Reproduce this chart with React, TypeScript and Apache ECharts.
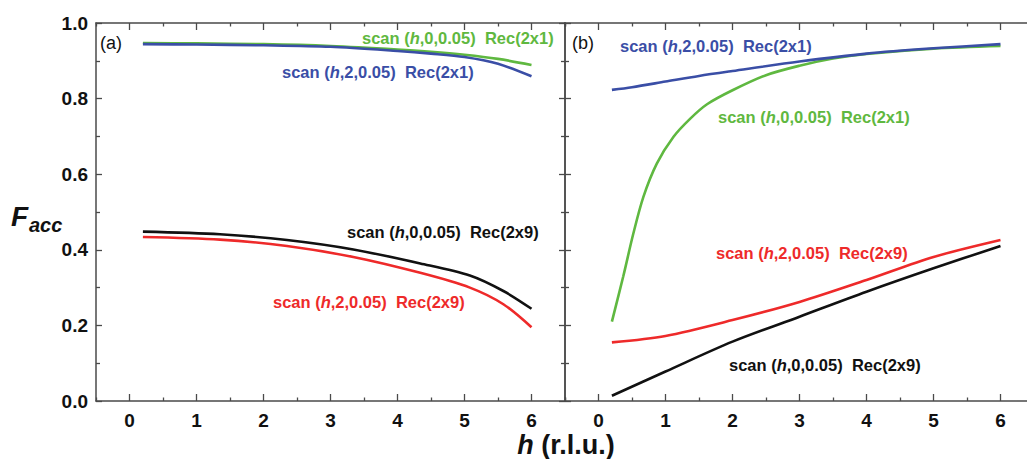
import React, { useEffect, useRef } from "react";
import * as echarts from "echarts";

// ---- data ----
const hA = [0.2, 1, 2, 3, 4, 4.5, 5, 5.5, 6];
const greenA = [0.947, 0.946, 0.944, 0.939, 0.93, 0.924, 0.916, 0.905, 0.889];
const blueA = [0.944, 0.943, 0.941, 0.937, 0.926, 0.919, 0.91, 0.892, 0.859];
const hA2 = [0.2, 1.35, 2.35, 3.34, 4.34, 5.08, 5.58, 6];
const blackA = [0.448, 0.441, 0.426, 0.401, 0.364, 0.332, 0.291, 0.244];
const redA = [0.434, 0.427, 0.41, 0.381, 0.339, 0.3, 0.256, 0.195];

const hGreenB = [0.2, 0.37, 0.52, 0.67, 0.87, 1.12, 1.37, 1.62, 2.0, 2.5, 3, 3.5, 4, 5, 6];
const greenB = [0.21, 0.33, 0.443, 0.54, 0.628, 0.699, 0.747, 0.785, 0.822, 0.862, 0.887, 0.906, 0.918, 0.932, 0.939];
const hBlueB = [0.2, 0.5, 1, 1.5, 2, 3, 4, 5, 6];
const blueB = [0.823, 0.83, 0.845, 0.86, 0.873, 0.898, 0.919, 0.933, 0.944];
const hB = [0.2, 1, 2, 3, 4, 5, 6];
const redB = [0.155, 0.172, 0.214, 0.262, 0.32, 0.381, 0.426];
const blackB = [0.014, 0.078, 0.157, 0.223, 0.289, 0.351, 0.41];

const yTicks = [0, 0.2, 0.4, 0.6, 0.8, 1.0];
const xTicks = [0, 1, 2, 3, 4, 5, 6];

const GREEN = "#5fb840";
const BLUE = "#3a4ea6";
const RED = "#ee2a2a";
const BLACK = "#111111";
const AXIS = "#4a4a4a";
const FONT = "'Liberation Sans', Arial, sans-serif";

const zip = (xs: number[], ys: number[]) => xs.map((x, i) => [x, ys[i]]);

function scanLabel(k: string, rec: string) {
  return `{n|scan (}{i|h}{n|,${k},0.05)  Rec(${rec})}`;
}

export default function App() {
  const ref = useRef<HTMLDivElement>(null);
  useEffect(() => {
    if (!ref.current) return;
    const chart = echarts.init(ref.current, undefined, { renderer: "svg" });

    const grids = [
      { left: 96, top: 23, width: 469, height: 378 },
      { left: 565, top: 23, width: 469, height: 378 },
    ];

    const xAxes: any[] = [];
    const yAxes: any[] = [];
    grids.forEach((_, g) => {
      xAxes.push({
        gridIndex: g,
        type: "value",
        position: "bottom",
        min: -0.5,
        max: 6.5,
        interval: 1,
        axisLine: { show: true, onZero: false, lineStyle: { color: AXIS, width: 1.5 } },
        axisTick: { show: true, inside: true, length: 3.5, lineStyle: { color: AXIS, width: 1.3 } },
        minorTick: { show: true, splitNumber: 2, length: 7, lineStyle: { color: AXIS, width: 1.3 } },
        axisLabel: { show: false },
        splitLine: { show: false },
      });
      xAxes.push({
        gridIndex: g,
        type: "value",
        position: "bottom",
        min: -0.5,
        max: 6.5,
        interval: 0.5,
        axisLine: { show: false, onZero: false },
        axisTick: { show: false },
        axisLabel: {
          show: true,
          margin: 10,
          color: "#111",
          fontSize: 19,
          fontWeight: "bold",
          fontFamily: FONT,
          formatter: (v: number) => (xTicks.includes(v) ? String(v) : ""),
        },
        splitLine: { show: false },
      });
      xAxes.push({
        gridIndex: g,
        type: "value",
        position: "top",
        min: -0.5,
        max: 6.5,
        interval: 1,
        axisLine: { show: true, onZero: false, lineStyle: { color: AXIS, width: 1.5 } },
        axisTick: { show: true, inside: true, length: 3.5, lineStyle: { color: AXIS, width: 1.3 } },
        minorTick: { show: true, splitNumber: 2, length: 7, lineStyle: { color: AXIS, width: 1.3 } },
        axisLabel: { show: false },
        splitLine: { show: false },
      });
      yAxes.push({
        gridIndex: g,
        type: "value",
        position: "left",
        min: 0,
        max: 1,
        interval: 0.2,
        axisLine: { show: true, onZero: false, lineStyle: { color: AXIS, width: 1.5 } },
        axisTick: { show: true, inside: true, length: 6, lineStyle: { color: AXIS, width: 1.3 } },
        minorTick: { show: true, splitNumber: 2, length: 4, lineStyle: { color: AXIS, width: 1.3 } },
        axisLabel: {
          show: g === 0,
          margin: 8,
          color: "#111",
          fontSize: 19,
          fontWeight: "bold",
          fontFamily: FONT,
          formatter: (v: number) => (yTicks.some((t) => Math.abs(t - v) < 1e-9) ? v.toFixed(1) : ""),
        },
        splitLine: { show: false },
      });
      yAxes.push({
        gridIndex: g,
        type: "value",
        position: "right",
        show: g === 0,
        min: 0,
        max: 1,
        interval: 0.2,
        axisLine: { show: true, onZero: false, lineStyle: { color: AXIS, width: 1.5 } },
        axisTick: { show: true, inside: true, length: 6, lineStyle: { color: AXIS, width: 1.3 } },
        minorTick: { show: true, splitNumber: 2, length: 4, lineStyle: { color: AXIS, width: 1.3 } },
        axisLabel: { show: false },
        splitLine: { show: false },
      });
    });

    const line = (name: string, data: number[][], color: string, panel: number) => ({
      name,
      type: "line",
      xAxisIndex: panel === 0 ? 0 : 3,
      yAxisIndex: panel === 0 ? 0 : 2,
      data,
      smooth: 0.3,
      showSymbol: false,
      symbol: "none",
      lineStyle: { color, width: 2.6 },
      z: 3,
    });

    const series = [
      line("a-green", zip(hA, greenA), GREEN, 0),
      line("a-blue", zip(hA, blueA), BLUE, 0),
      line("a-black", zip(hA2, blackA), BLACK, 0),
      line("a-red", zip(hA2, redA), RED, 0),
      line("b-green", zip(hGreenB, greenB), GREEN, 1),
      line("b-blue", zip(hBlueB, blueB), BLUE, 1),
      line("b-red", zip(hB, redB), RED, 1),
      line("b-black", zip(hB, blackB), BLACK, 1),
    ];

    const rich = {
      n: { fontWeight: "bold", fontStyle: "normal", fontSize: 16.5, fontFamily: FONT },
      i: { fontWeight: "bold", fontStyle: "italic", fontSize: 16.5, fontFamily: FONT },
    };
    const ann = (x: number, y: number, text: string, fill: string) => ({
      type: "text",
      x,
      y,
      z: 10,
      style: {
        text,
        fill,
        rich: Object.fromEntries(Object.entries(rich).map(([k, v]) => [k, { ...v, color: fill }])),
        verticalAlign: "middle",
        align: "left",
      },
    });

    const graphic = [
      ann(362, 38, scanLabel("0", "2x1"), GREEN),
      ann(282, 72, scanLabel("2", "2x1"), BLUE),
      ann(347, 232, scanLabel("0", "2x9"), BLACK),
      ann(273, 302, scanLabel("2", "2x9"), RED),
      ann(620, 46, scanLabel("2", "2x1"), BLUE),
      ann(718, 117, scanLabel("0", "2x1"), GREEN),
      ann(716, 253, scanLabel("2", "2x9"), RED),
      ann(729, 365, scanLabel("0", "2x9"), BLACK),
      { type: "text", x: 100, y: 43, style: { text: "(a)", fill: "#111", font: `18px ${FONT}`, verticalAlign: "middle" } },
      { type: "text", x: 572, y: 43, style: { text: "(b)", fill: "#111", font: `18px ${FONT}`, verticalAlign: "middle" } },
      { type: "text", x: 11, y: 216, style: { text: "F", fill: "#111", font: `italic bold 28px ${FONT}`, verticalAlign: "middle" } },
      { type: "text", x: 29, y: 225, style: { text: "acc", fill: "#111", font: `italic bold 20px ${FONT}`, verticalAlign: "middle" } },
      {
        type: "text",
        x: 566,
        y: 445,
        style: {
          text: "{i|h}{n| (r.l.u.)}",
          align: "center",
          verticalAlign: "middle",
          fill: "#111",
          rich: {
            i: { fontStyle: "italic", fontWeight: "bold", fontSize: 27, fontFamily: FONT, color: "#111" },
            n: { fontWeight: "bold", fontSize: 27, fontFamily: FONT, color: "#111" },
          },
        },
      },
    ];

    chart.setOption({
      animation: false,
      backgroundColor: "#ffffff",
      grid: grids,
      xAxis: xAxes,
      yAxis: yAxes,
      series,
      graphic,
    });
    return () => chart.dispose();
  }, []);

  return (
    <div
      ref={ref}
      style={{ position: "fixed", left: 0, top: 0, width: 1040, height: 459, background: "#fff" }}
    />
  );
}
